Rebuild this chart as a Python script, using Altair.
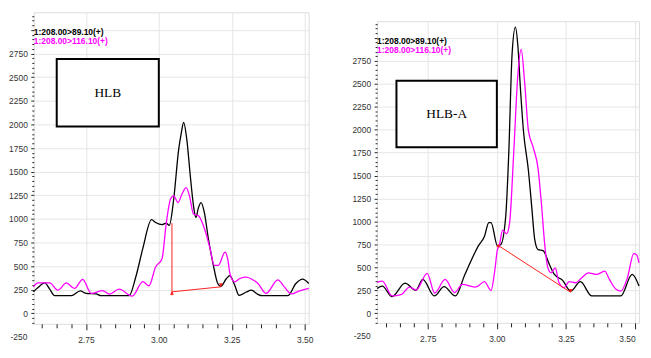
import altair as alt
import pandas as pd

# ---------------- HLB (left panel) ----------------
hlb_black_t = [2.570, 2.585, 2.609, 2.625, 2.643, 2.700, 2.731, 2.751, 2.785, 2.802, 2.898, 2.921,
               2.945, 2.975, 2.989, 3.011, 3.025, 3.036, 3.051, 3.068, 3.077, 3.085, 3.096, 3.108,
               3.119, 3.127, 3.136, 3.145, 3.156, 3.170, 3.187, 3.202, 3.212, 3.232, 3.243, 3.260,
               3.275, 3.300, 3.317, 3.340, 3.355, 3.442, 3.470, 3.493, 3.514]
hlb_black_v = [227, 270, 321, 260, 186, 186, 237, 210, 205, 186, 186, 384,
               685, 991, 962, 939, 955, 930, 1208, 1734, 1909, 2023, 1840, 1453,
               1138, 1016, 1121, 1173, 1068, 788, 508, 315, 285, 368, 398, 300,
               190, 225, 245, 200, 186, 186, 315, 361, 315]

hlb_mag_t = [2.570, 2.586, 2.626, 2.654, 2.683, 2.711, 2.739, 2.768, 2.807, 2.830, 2.864, 2.909,
             2.945, 2.966, 2.989, 3.011, 3.025, 3.040, 3.051, 3.066, 3.079, 3.094, 3.105, 3.119,
             3.136, 3.153, 3.176, 3.190, 3.204, 3.227, 3.236, 3.244, 3.260, 3.278, 3.300, 3.323,
             3.340, 3.368, 3.408, 3.430, 3.455, 3.480, 3.514]
hlb_mag_v = [280, 321, 321, 245, 321, 263, 360, 210, 240, 203, 255, 182,
             335, 290, 490, 578, 940, 1208, 1243, 1173, 1261, 1331, 1243, 1051,
             1033, 928, 683, 508, 508, 647, 578, 418, 333, 368, 383, 353,
             315, 210, 353, 280, 205, 235, 263]

# ---------------- HLB-A (right panel) ----------------
hlba_black_t = [2.567, 2.586, 2.621, 2.668, 2.707, 2.732, 2.774, 2.809, 2.850, 2.884, 2.919, 2.932,
                2.955, 2.971, 2.979, 3.002, 3.014, 3.032, 3.043, 3.055, 3.067, 3.076, 3.085, 3.096,
                3.114, 3.126, 3.137, 3.149, 3.167, 3.190, 3.208, 3.237, 3.267, 3.302, 3.343, 3.448,
                3.489, 3.514]
hlba_black_v = [270, 296, 181, 328, 250, 368, 188, 289, 188, 420, 650, 728,
                836, 988, 988, 736, 747, 1053, 1739, 2821, 3116, 2911, 2459, 1991,
                1558, 1161, 801, 692, 682, 530, 422, 360, 241, 343, 188, 188,
                422, 296]

hlba_mag_t = [2.567, 2.586, 2.621, 2.656, 2.684, 2.708, 2.748, 2.775, 2.813, 2.847, 2.875, 2.920,
              2.932, 2.955, 2.979, 2.993, 3.002, 3.008, 3.021, 3.035, 3.046, 3.061, 3.076, 3.088,
              3.100, 3.114, 3.131, 3.149, 3.161, 3.173, 3.184, 3.196, 3.211, 3.225, 3.243, 3.261,
              3.284, 3.307, 3.331, 3.360, 3.390, 3.407, 3.431, 3.448, 3.472, 3.495, 3.505, 3.514]
hlba_mag_v = [335, 350, 188, 206, 285, 252, 435, 220, 368, 224, 314, 285,
              296, 345, 247, 476, 692, 728, 905, 865, 981, 1750, 2604, 2875,
              2532, 1991, 1810, 1576, 1198, 750, 500, 440, 494, 332, 278, 343,
              332, 386, 440, 422, 458, 368, 260, 241, 386, 649, 638, 548]

series_names = ["1:208.00>89.10(+)", "1:208.00>116.10(+)"]
series_colors = ["#000000", "#ff00ff"]

# integration baselines (red)
hlb_red_x = [3.045, 3.045]
hlb_red_y = [955, 227]
hlb_red_x2 = [3.045, 3.213]
hlb_red_y2 = [190, 280]
hlb_mark_x = [3.045, 3.213]
hlb_mark_y = [215, 300]
hlb_mark_shape = ["triangle-up", "triangle-down"]

hlba_red_x = [3.005]
hlba_red_y = [738]
hlba_red_x2 = [3.267]
hlba_red_y2 = [227]
hlba_mark_x = [3.005, 3.267]
hlba_mark_y = [738, 245]
hlba_mark_shape = ["triangle-up", "triangle-down"]

# axis ticks
y_ticks = list(range(-100, 3201, 50))
x_ticks = [round(2.60 + 0.05 * i, 2) for i in range(19)]
y_extra_label = [-250]

# panel frames (axis domains) and sample boxes
hlb_x_domain = [2.5714, 3.5136]
hlb_y_domain = [-112, 3188]
hlba_x_domain = [2.567, 3.514]
hlba_y_domain = [-105, 3181]

hlb_box = dict(x=2.650, x2=3.000, y=2694, y2=1979, label="HLB")
hlba_box = dict(x=2.637, x2=3.000, y=2533, y2=1809, label="HLB-A")
hlb_legend_y = [2976, 2882]
hlba_legend_y = [2963, 2866]

FONT = "Liberation Sans"
XMAJ = "abs(datum.value*4 - round(datum.value*4)) < 0.001"
YMAJ = "datum.value % 250 === 0"


def make_panel(bt, bv, mt, mv, rx, ry, rx2, ry2, mkx, mky, mks, xdom, ydom, box, legy, w, h, flush):
    df = pd.concat([
        pd.DataFrame({"t": bt, "v": bv, "s": series_names[0]}),
        pd.DataFrame({"t": mt, "v": mv, "s": series_names[1]}),
    ])
    xs = alt.Scale(domain=xdom, nice=False, zero=False)
    ys = alt.Scale(domain=ydom, nice=False, zero=False)
    xaxis = alt.Axis(
        values=x_ticks, tickCount=200, format=".2f", title=None,
        labelExpr=XMAJ + " ? datum.label : ''",
        tickSize={"condition": {"test": XMAJ, "value": 6}, "value": 4},
        gridOpacity={"condition": {"test": XMAJ, "value": 1}, "value": 0},
        labelPadding=6, labelFontSize=8.5, labelFont=FONT, labelColor="#333",
        tickColor="#222", domain=False, gridColor="#e6e6e6", labelOverlap=False, labelFlush=flush,
    )
    yaxis = alt.Axis(
        values=y_ticks, tickCount=200, format="d", title=None,
        labelExpr="(" + YMAJ + " && datum.value >= 0 && datum.value <= 2750) ? datum.label : ''",
        tickSize={"condition": {"test": YMAJ, "value": 3}, "value": 2},
        gridOpacity={"condition": {"test": YMAJ, "value": 1}, "value": 0},
        labelPadding=3.5, labelFontSize=8.5, labelFont=FONT, labelColor="#333",
        tickColor="#222", domain=False, gridColor="#e6e6e6", labelOverlap=False, labelFlush=False,
    )
    lines = alt.Chart(df).mark_line(interpolate="monotone", strokeWidth=1.3).encode(
        x=alt.X("t:Q", scale=xs, axis=xaxis),
        y=alt.Y("v:Q", scale=ys, axis=yaxis),
        color=alt.Color("s:N", scale=alt.Scale(domain=series_names, range=series_colors), legend=None),
    )
    red = alt.Chart(pd.DataFrame({"x": rx, "y": ry, "x2": rx2, "y2": ry2})).mark_rule(
        color="#ff2020", strokeWidth=1).encode(x="x:Q", y="y:Q", x2="x2:Q", y2="y2:Q")
    marks = alt.Chart(pd.DataFrame({"x": mkx, "y": mky, "shape": mks})).mark_point(
        filled=True, size=16, color="#ff2020", opacity=1).encode(
        x="x:Q", y="y:Q",
        shape=alt.Shape("shape:N", scale=alt.Scale(domain=["triangle-up", "triangle-down"],
                                                   range=["triangle-up", "triangle-down"]), legend=None))
    bdf = pd.DataFrame([box])
    rect = alt.Chart(bdf).mark_rect(fill="white", stroke="black", strokeWidth=2).encode(
        x="x:Q", x2="x2:Q", y="y:Q", y2="y2:Q")
    btxt = alt.Chart(bdf).transform_calculate(cx="(datum.x + datum.x2) / 2", cy="(datum.y + datum.y2) / 2").mark_text(
        font="Liberation Serif", fontSize=13.5, color="black", baseline="middle", align="center").encode(
        x="cx:Q", y="cy:Q", text="label:N")
    ldf = pd.DataFrame({"x": [xdom[0], xdom[0]], "y": legy, "s": series_names})
    legend = alt.Chart(ldf).mark_text(font=FONT, fontSize=8.5, fontWeight="bold", align="left", baseline="middle").encode(
        x="x:Q", y="y:Q", text="s:N",
        color=alt.Color("s:N", scale=alt.Scale(domain=series_names, range=series_colors), legend=None))
    edf = pd.DataFrame({"x": [xdom[0] - 6.5 / w * (xdom[1] - xdom[0])], "y": y_extra_label,
                        "l": [str(v) for v in y_extra_label]})
    extra = alt.Chart(edf).mark_text(font=FONT, fontSize=8.5, color="#333", align="right", baseline="middle").encode(
        x="x:Q", y="y:Q", text="l:N")
    return alt.layer(lines, red, marks, rect, btxt, legend, extra).properties(width=w, height=h)


left = make_panel(hlb_black_t, hlb_black_v, hlb_mag_t, hlb_mag_v,
                  hlb_red_x, hlb_red_y, hlb_red_x2, hlb_red_y2,
                  hlb_mark_x, hlb_mark_y, hlb_mark_shape,
                  hlb_x_domain, hlb_y_domain, hlb_box, hlb_legend_y, 277, 314, False)
right = make_panel(hlba_black_t, hlba_black_v, hlba_mag_t, hlba_mag_v,
                   hlba_red_x, hlba_red_y, hlba_red_x2, hlba_red_y2,
                   hlba_mark_x, hlba_mark_y, hlba_mark_shape,
                   hlba_x_domain, hlba_y_domain, hlba_box, hlba_legend_y, 264, 304, 6)

# invisible spacer that drops the right panel 10px lower than the left one
spacer = alt.Chart(pd.DataFrame({"a": [0]})).mark_rule(strokeWidth=0, opacity=0).encode(
    x=alt.value(0), x2=alt.value(1), y=alt.value(0)
).properties(width=264, height=1, view=alt.ViewBackground(stroke="transparent"))

right_col = alt.vconcat(spacer, right, spacing=5)

chart = alt.hconcat(left, right_col, spacing=38).properties(
    padding={"left": 0, "top": 2, "right": 0, "bottom": 0}
).configure_view(stroke="black", strokeWidth=1).configure(background="white")

chart.save("out.html", embed_options={"renderer": "svg", "actions": False})
